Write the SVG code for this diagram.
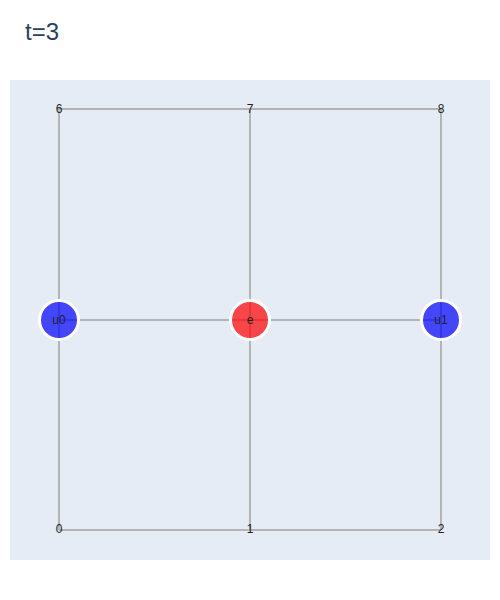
<svg xmlns="http://www.w3.org/2000/svg" width="500" height="600" viewBox="0 0 500 600">
<style>
.edge{stroke:#b4b4b4;stroke-width:2;fill:none}
.lbl{font-family:"Liberation Sans",Arial,sans-serif;font-size:12px;fill:#222;text-anchor:middle}
.node{stroke:#ffffff;stroke-width:3;}
</style>
<rect x="0" y="0" width="500" height="600" fill="#ffffff"/>
<rect x="10" y="80" width="480" height="480" fill="#e5ecf6"/>
<text x="25" y="40" font-family="'Liberation Sans',Arial,sans-serif" font-size="24" fill="#2a3f5f">t=3</text>
<g id="connectors">
<line class="edge" x1="59" y1="109" x2="441" y2="109"/>
<line class="edge" x1="59" y1="320" x2="441" y2="320"/>
<line class="edge" x1="59" y1="530" x2="441" y2="530"/>
<line class="edge" x1="59" y1="109" x2="59" y2="530"/>
<line class="edge" x1="250" y1="109" x2="250" y2="530"/>
<line class="edge" x1="441" y1="109" x2="441" y2="530"/>
</g>
<g id="n6"><text class="lbl" x="59" y="113">6</text></g>
<g id="n7"><text class="lbl" x="250" y="113">7</text></g>
<g id="n8"><text class="lbl" x="441" y="113">8</text></g>
<g id="n0"><text class="lbl" x="59" y="533">0</text></g>
<g id="n1"><text class="lbl" x="250" y="533">1</text></g>
<g id="n2"><text class="lbl" x="441" y="533">2</text></g>
<g id="u0"><circle class="node" cx="59" cy="320" r="19.5" fill="#0000ff" fill-opacity="0.7"/><text class="lbl" x="59" y="324">u0</text></g>
<g id="e"><circle class="node" cx="250" cy="320" r="19.5" fill="#ff0000" fill-opacity="0.7"/><text class="lbl" x="250" y="324">e</text></g>
<g id="u1"><circle class="node" cx="441" cy="320" r="19.5" fill="#0000ff" fill-opacity="0.7"/><text class="lbl" x="441" y="324">u1</text></g>
</svg>
